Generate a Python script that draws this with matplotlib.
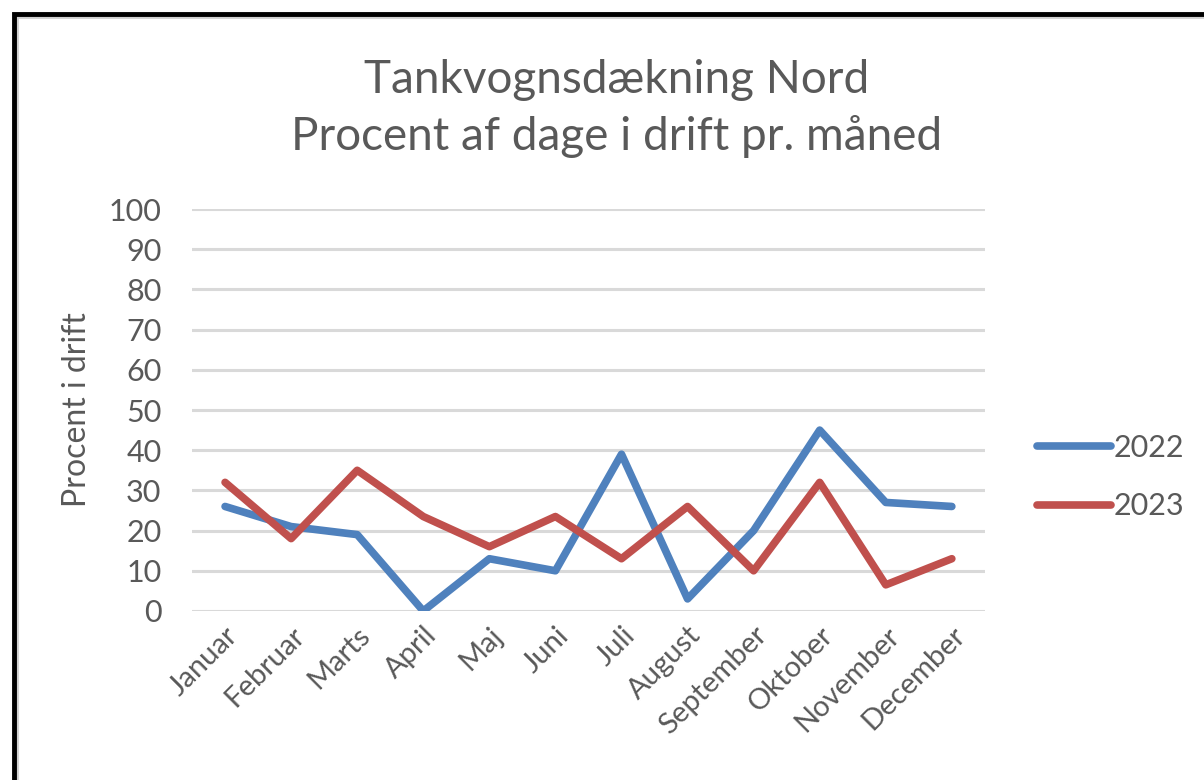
import matplotlib.pyplot as plt
from matplotlib.patches import Rectangle

months = ["Januar", "Februar", "Marts", "April", "Maj", "Juni", "Juli",
          "August", "September", "Oktober", "November", "December"]
pct_2022 = [26, 21, 19, 0, 13, 10, 39, 3, 20, 45, 27, 26]
pct_2023 = [32, 18, 35, 23.5, 16, 23.5, 13, 26, 10, 32, 6.5, 13]

plt.rcParams['font.family'] = ['Lato', 'DejaVu Sans']
grey = "#595959"

fig = plt.figure(figsize=(12.04, 7.8), dpi=100)
ax = fig.add_axes([0.1595, 0.2167, 0.6585, 0.5153])

x = range(len(months))
ax.plot(x, pct_2022, color="#4F81BD", lw=5.5, solid_capstyle="round", label="2022")
ax.plot(x, pct_2023, color="#C0504D", lw=5.5, solid_capstyle="round", label="2023")

ax.set_xlim(-0.5, len(months) - 0.5)
ax.set_ylim(0, 100)
ax.set_yticks(range(0, 101, 10))
ax.set_xticks(list(x))
ax.set_xticklabels(months, rotation=45, ha="right", rotation_mode="anchor")
ax.tick_params(axis="both", length=0, colors=grey)
ax.tick_params(axis="y", pad=22, labelsize=22)
ax.tick_params(axis="x", pad=8, labelsize=21)
ax.grid(axis="y", color="#D9D9D9", lw=2.2)
ax.set_axisbelow(True)
for s in ax.spines.values():
    s.set_visible(False)

ax.set_ylabel("Procent i drift", fontsize=23, color=grey, labelpad=12)
fig.text(0.512, 0.861, "Tankvognsdækning Nord\nProcent af dage i drift pr. måned",
         ha="center", va="center", fontsize=33, color=grey, linespacing=1.42)

ax.legend(loc="center left", bbox_to_anchor=(1.066, 0.333), frameon=False,
          fontsize=22, labelcolor=grey, handlelength=2.4, handletextpad=0.1,
          labelspacing=1.0, borderpad=0, borderaxespad=0)

# black frame around the chart, with a faint inner shadow
fig.patches.append(Rectangle((17 / 1204, -0.1), 1.2, 1 - 17 / 780 + 0.1,
                             transform=fig.transFigure, fill=False,
                             edgecolor="#D0D0D0", lw=2))
fig.patches.append(Rectangle((14 / 1204, -0.1), 1.2, 1 - 14 / 780 + 0.1,
                             transform=fig.transFigure, fill=False,
                             edgecolor="black", lw=3.5))

fig.savefig("out.png", dpi=100)
